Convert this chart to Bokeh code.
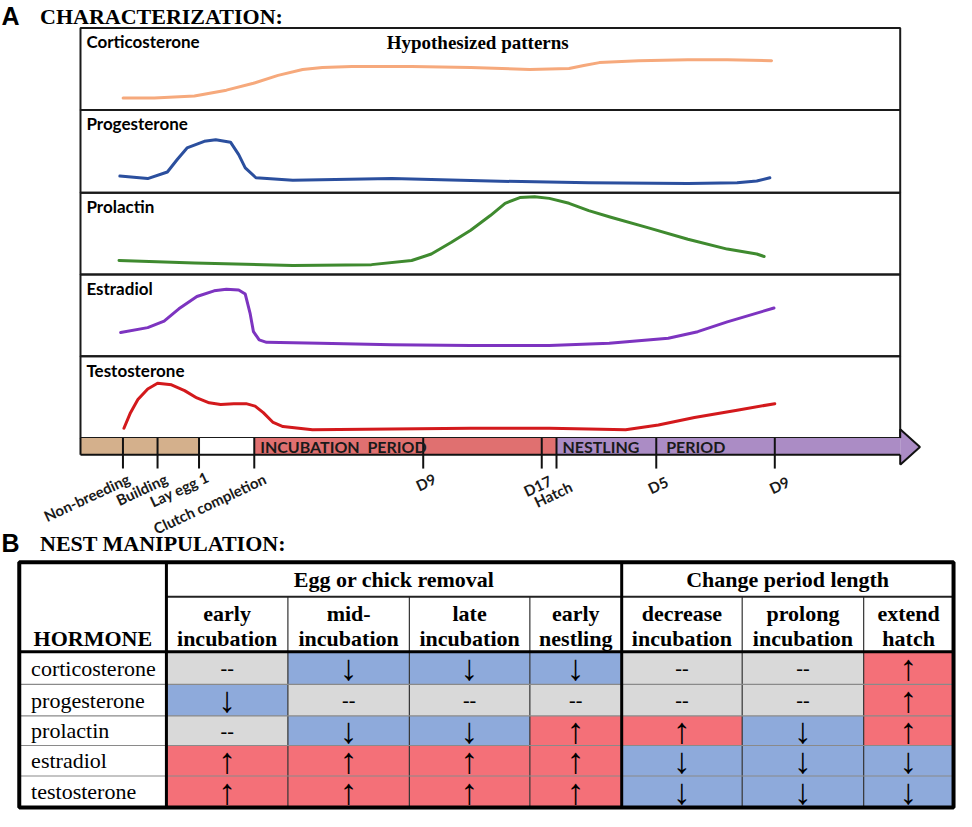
import math
from bokeh.plotting import figure
from bokeh.models import Range1d
from bokeh.embed import file_html
from bokeh.resources import INLINE
from bokeh.core.properties import value

# ---------------- DATA ----------------
hormone_names = ["Corticosterone", "Progesterone", "Prolactin", "Estradiol", "Testosterone"]
hormone_colors = ["#f6a97c", "#2b4f9e", "#3f8a2f", "#7d34c0", "#d3191c"]

# timeline position (0-100 across the panel) and relative hormone level (0-10 per panel)
cort_t = [5.2, 9.0, 13.9, 17.8, 21.1, 24.1, 27.1, 29.5, 33.1, 40.4, 47.6, 54.8, 59.6, 61.4, 63.3, 68.1, 74.1, 78.9, 84.3]
cort_lvl = [1.45, 1.45, 1.69, 2.41, 3.25, 4.22, 4.94, 5.18, 5.30, 5.30, 5.18, 4.94, 5.06, 5.42, 5.78, 6.02, 6.14, 6.14, 6.02]

prog_t = [4.8, 8.2, 10.6, 11.8, 13.0, 15.1, 16.5, 18.3, 19.3, 20.1, 21.4, 25.9, 38.0, 50.0, 62.0, 74.1, 80.1, 82.5, 84.1]
prog_lvl = [2.0, 1.7, 2.5, 4.0, 5.4, 6.2, 6.4, 6.1, 4.6, 3.0, 1.8, 1.5, 1.7, 1.4, 1.2, 1.1, 1.2, 1.4, 1.8]

prl_t = [4.7, 13.9, 25.9, 35.5, 40.4, 42.8, 45.2, 47.6, 50.0, 51.8, 53.6, 55.4, 57.2, 59.6, 62.0, 64.7, 69.3, 74.1, 78.9, 82.5, 83.4]
prl_lvl = [1.7, 1.4, 1.1, 1.2, 1.7, 2.5, 3.9, 5.4, 7.2, 8.7, 9.4, 9.5, 9.3, 8.7, 7.8, 7.0, 5.7, 4.3, 3.1, 2.5, 2.2]

e2_t = [4.9, 8.2, 10.2, 12.0, 14.2, 16.3, 17.8, 19.3, 20.1, 20.7, 21.1, 21.8, 22.7, 29.2, 38.0, 47.6, 57.2, 64.5, 71.7, 75.3, 78.9, 84.6]
e2_lvl = [2.9, 3.5, 4.3, 5.8, 7.3, 8.0, 8.2, 8.1, 7.6, 5.2, 3.0, 2.0, 1.7, 1.6, 1.4, 1.3, 1.3, 1.6, 2.2, 3.0, 4.2, 5.9]

t_t = [5.3, 6.1, 7.0, 8.2, 9.4, 11.1, 12.7, 14.2, 15.7, 17.1, 18.7, 20.2, 21.3, 22.3, 23.5, 24.7, 28.3, 38.0, 47.6, 57.2, 62.0, 66.5, 70.5, 74.9, 80.1, 84.7]
t_lvl = [1.2, 3.1, 4.7, 6.0, 6.7, 6.5, 5.8, 4.9, 4.3, 4.1, 4.2, 4.2, 3.9, 3.1, 1.9, 1.4, 1.0, 1.1, 1.2, 1.2, 1.1, 1.0, 1.6, 2.5, 3.4, 4.2]

curves_t = [cort_t, prog_t, prl_t, e2_t, t_t]
curves_lvl = [cort_lvl, prog_lvl, prl_lvl, e2_lvl, t_lvl]

stage_labels = ["Non-breeding", "Building", "Lay egg 1", "Clutch completion", "D9", "D17", "Hatch", "D5", "D9"]
stage_t = [5.18, 9.40, 14.46, 21.20, 41.81, 56.27, 58.07, 70.24, 84.70]

table_rows = ["corticosterone", "progesterone", "prolactin", "estradiol", "testosterone"]
table_groups = ["Egg or chick removal", "Change period length"]
table_cols = [("early", "incubation"), ("mid-", "incubation"), ("late", "incubation"), ("early", "nestling"),
              ("decrease", "incubation"), ("prolong", "incubation"), ("extend", "hatch")]
# -1 = decrease, 0 = no change, +1 = increase
effects = [
    [0, -1, -1, -1, 0, 0, 1],
    [-1, 0, 0, 0, 0, 0, 1],
    [0, -1, -1, 1, 1, -1, 1],
    [1, 1, 1, 1, -1, -1, -1],
    [1, 1, 1, 1, -1, -1, -1],
]

# ---------------- LAYOUT / STYLE ----------------
W, H = 956, 811
X0, X1, Y0, Y1 = 4, 972, 2, 825
PX_L, PX_R = 85, 915
PANEL_EDGES = [30, 113, 197, 280, 363, 446]
BAR_TOP, BAR_BOT = 446, 463
TICK_END = 477
SERIF = value("Liberation Serif")
SANS = value("Lato")

p = figure(width=W, height=H, x_range=Range1d(X0, X1), y_range=Range1d(Y1, Y0),
           x_axis_type=None, y_axis_type=None, toolbar_location=None,
           output_backend="svg", min_border=0)
p.outline_line_color = None
p.background_fill_color = "white"
p.border_fill_color = "white"

sx = (PX_R - PX_L) / 100.0
p.extra_x_ranges = {"t": Range1d((X0 - PX_L) / sx, (X1 - PX_L) / sx)}
yr = {}
for i, nm in enumerate(hormone_names):
    top, bot = PANEL_EDGES[i], PANEL_EDGES[i + 1]
    k = (bot - top) / 10.0
    yr[nm] = Range1d((bot - Y1) / k, (bot - Y0) / k)
p.extra_y_ranges = yr

# titles
p.text(x=[5], y=[18], text=["A"], text_font=value("Liberation Sans"), text_font_style="bold",
       text_font_size="25px", text_baseline="middle", text_color="black")
p.text(x=[44], y=[18], text=["CHARACTERIZATION:"], text_font=SERIF, text_font_style="bold",
       text_font_size="22px", text_baseline="middle", text_color="black")
p.text(x=[5], y=[553], text=["B"], text_font=value("Liberation Sans"), text_font_style="bold",
       text_font_size="25px", text_baseline="middle", text_color="black")
p.text(x=[44], y=[553], text=["NEST MANIPULATION:"], text_font=SERIF, text_font_style="bold",
       text_font_size="22px", text_baseline="middle", text_color="black")

# panels
for i, nm in enumerate(hormone_names):
    p.quad(left=[0], right=[100], bottom=[0], top=[10], x_range_name="t", y_range_name=nm,
           fill_color=None, line_color="#1a1a1a", line_width=2)
    p.line(x=curves_t[i], y=curves_lvl[i], x_range_name="t", y_range_name=nm,
           line_color=hormone_colors[i], line_width=3, line_join="round", line_cap="round")
    p.text(x=[PX_L + 6], y=[PANEL_EDGES[i] + 14], text=[nm], text_font=SANS, text_font_style="bold",
           text_font_size="17px", text_baseline="middle", text_color="black")
p.text(x=[395], y=[45], text=["Hypothesized patterns"], text_font=SERIF, text_font_style="bold",
       text_font_size="19px", text_baseline="middle", text_color="black")

# timeline bar
seg_l = [0, stage_t[2], stage_t[3], stage_t[6]]
seg_r = [stage_t[2], stage_t[3], stage_t[6], 100]
seg_c = ["#d4b08c", "#ffffff", "#e07070", "#ab8cc5"]
p.quad(left=seg_l, right=seg_r, top=BAR_TOP, bottom=BAR_BOT, x_range_name="t",
       fill_color=seg_c, line_color=None)
tip = 100 + 20 / sx
p.patch(x=[100, tip, 100], y=[437, 455, 473], x_range_name="t", fill_color="#ab8cc5", line_color=None)
p.multi_line(xs=[[100, tip, 100], [100, 100], [100, 100], [0, 100], [0, 0]],
             ys=[[437, 455, 473], [437, BAR_TOP], [BAR_BOT, 473], [BAR_BOT, BAR_BOT], [BAR_TOP, BAR_BOT]],
             x_range_name="t", line_color="#111111", line_width=2)
p.segment(x0=stage_t, x1=stage_t, y0=BAR_TOP, y1=TICK_END, x_range_name="t",
          line_color="#111111", line_width=2)

def tx(t):
    return PX_L + t * sx

p.text(x=[tx(stage_t[3]) + 6], y=[455], text=["INCUBATION\u00a0 PERIOD"], text_font=SANS, text_font_style="bold",
       text_font_size="16px", text_baseline="middle", text_color="#1a1a1a")
p.text(x=[tx(stage_t[6]) + 6, tx(stage_t[7]) + 10], y=[455, 455], text=["NESTLING", "PERIOD"],
       text_font=SANS, text_font_style="bold", text_font_size="16px", text_baseline="middle", text_color="#1a1a1a")

lab_dx = [2, 5, 5, 7, 8, 5, 11, 7, 10]
lab_y = [478, 478, 476, 478, 478, 480, 486, 481, 481]
p.text(x=[tx(t) + d for t, d in zip(stage_t, lab_dx)], y=lab_y, text=stage_labels,
       angle=math.radians(25), text_align="right", text_baseline="top",
       text_font=SANS, text_font_style="bold", text_font_size="15px", text_color="#1a1a1a")

# ---------------- TABLE ----------------
COL_EDGES = [23, 172, 295, 418, 540, 633, 755, 878, 969]
T_TOP, T_GRP, T_HDR = 572, 607, 663
ROW_EDGES = [663, 696, 728, 758, 789, 821]
cell_colors = {-1: "#8eaadb", 0: "#d9d9d9", 1: "#f47078"}

L, R, Tp, B, C = [], [], [], [], []
for r, row in enumerate(effects):
    for c, v in enumerate(row):
        L.append(COL_EDGES[c + 1]); R.append(COL_EDGES[c + 2])
        Tp.append(ROW_EDGES[r]); B.append(ROW_EDGES[r + 1]); C.append(cell_colors[v])
p.quad(left=L, right=R, top=Tp, bottom=B, fill_color=C, line_color=None)

# thin lines
inner_cols = [COL_EDGES[i] for i in (2, 3, 4, 6, 7)]
p.segment(x0=inner_cols, x1=inner_cols, y0=T_GRP, y1=ROW_EDGES[-1], line_color="#333333", line_width=1.2)
p.segment(x0=[COL_EDGES[0]] * 4, x1=[COL_EDGES[-1]] * 4, y0=ROW_EDGES[1:-1], y1=ROW_EDGES[1:-1],
          line_color="#8a8a8a", line_width=1.2)
p.segment(x0=[COL_EDGES[1]], x1=[COL_EDGES[-1]], y0=[T_GRP], y1=[T_GRP], line_color="#222222", line_width=2)
# thick lines
p.segment(x0=[COL_EDGES[0]], x1=[COL_EDGES[-1]], y0=[T_HDR], y1=[T_HDR], line_color="black", line_width=3)
p.segment(x0=[COL_EDGES[1], COL_EDGES[5]], x1=[COL_EDGES[1], COL_EDGES[5]], y0=T_TOP, y1=ROW_EDGES[-1],
          line_color="black", line_width=3)
p.quad(left=[COL_EDGES[0]], right=[COL_EDGES[-1]], top=[T_TOP], bottom=[ROW_EDGES[-1]],
       fill_color=None, line_color="black", line_width=4)

# header texts
p.text(x=[(COL_EDGES[1] + COL_EDGES[5]) / 2, (COL_EDGES[5] + COL_EDGES[-1]) / 2], y=[590, 590],
       text=table_groups, text_font=SERIF, text_font_style="bold", text_font_size="22px",
       text_align="center", text_baseline="middle", text_color="black")
cx = [(COL_EDGES[i + 1] + COL_EDGES[i + 2]) / 2 for i in range(len(table_cols))]
p.text(x=cx, y=[624] * len(cx), text=[a for a, b in table_cols], text_font=SERIF, text_font_style="bold",
       text_font_size="22px", text_align="center", text_baseline="middle", text_color="black")
p.text(x=cx, y=[649] * len(cx), text=[b for a, b in table_cols], text_font=SERIF, text_font_style="bold",
       text_font_size="22px", text_align="center", text_baseline="middle", text_color="black")
p.text(x=[(COL_EDGES[0] + COL_EDGES[1]) / 2], y=[649], text=["HORMONE"], text_font=SERIF, text_font_style="bold",
       text_font_size="22px", text_align="center", text_baseline="middle", text_color="black")

ry = [(ROW_EDGES[i] + ROW_EDGES[i + 1]) / 2 for i in range(len(table_rows))]
p.text(x=[35] * len(table_rows), y=ry, text=table_rows, text_font=SERIF, text_font_size="22px",
       text_baseline="middle", text_color="black")

ax, ay, at, dx_, dy_ = [], [], [], [], []
for r, row in enumerate(effects):
    for c, v in enumerate(row):
        if v == 0:
            dx_.append(cx[c]); dy_.append(ry[r])
        else:
            ax.append(cx[c]); ay.append(ry[r]); at.append("\u2191" if v > 0 else "\u2193")
p.text(x=ax, y=ay, text=at, text_font=SERIF, text_font_size="36px", text_align="center",
       text_baseline="middle", text_color="black")
p.text(x=dx_, y=dy_, text=["--"] * len(dx_), text_font=SERIF, text_font_size="20px", text_align="center",
       text_baseline="middle", text_color="black")

open("out.html", "w").write(file_html(p, INLINE))
